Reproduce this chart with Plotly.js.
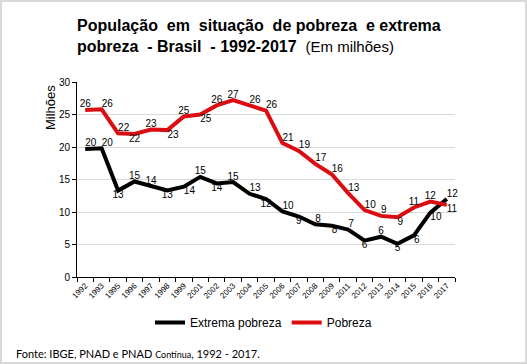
<!DOCTYPE html>
<html>
<head>
<meta charset="utf-8">
<script src="https://cdn.plot.ly/plotly-3.0.1.min.js"></script>
<style>
  html, body { margin: 0; padding: 0; background: #fff; }
  #chart { position: absolute; left: 0; top: 0; width: 527px; height: 364px; }
  #frame { position: absolute; left: 0; top: 0; width: 527px; height: 364px; box-sizing: border-box; border: 2px solid #d9d9d9; pointer-events: none; }
</style>
</head>
<body>
<div id="chart"></div>
<div id="frame"></div>
<script>
// Data (millions of people)
const years = ["1992","1993","1995","1996","1997","1998","1999","2001","2002","2003","2004","2005","2006","2007","2008","2009","2011","2012","2013","2014","2015","2016","2017"];
const extremaPobreza = [19.7, 19.8, 13.3, 14.7, 14.0, 13.3, 13.9, 15.4, 14.4, 14.6, 12.8, 12.0, 10.1, 9.3, 8.1, 7.9, 7.3, 5.6, 6.2, 5.1, 6.4, 9.9, 12.0];
const pobreza = [25.7, 25.8, 22.1, 22.0, 22.7, 22.6, 24.7, 25.0, 26.4, 27.2, 26.4, 25.6, 20.6, 19.4, 17.4, 15.8, 12.9, 10.3, 9.4, 9.2, 10.7, 11.6, 11.1];
const seriesNames = ["Extrema pobreza", "Pobreza"];

// Label placement (style)
const posExtrema = ["top right","top right","bottom center","top center","top center","bottom center","bottom right","top center","bottom center","top center","top right","bottom center","top right","bottom center","top right","bottom right","top right","bottom center","top center","bottom center","bottom right","bottom right","top right"];
const posPobreza = ["top center","top right","top right","bottom center","top center","bottom right","top center","bottom right","top center","top center","top right","top right","top right","top right","top right","top right","top right","top right","top right","bottom right","top center","top center","bottom right"];

const FONT = "Liberation Sans, Arial, sans-serif";

const traces = [
  {
    x: years, y: extremaPobreza, name: seriesNames[0], type: "scatter", mode: "lines+text",
    line: { color: "#000000", width: 4 },
    text: extremaPobreza.map(v => String(Math.round(v))),
    textposition: posExtrema,
    textfont: { family: FONT, size: 10, color: "#000" },
    cliponaxis: false
  },
  {
    x: years, y: pobreza, name: seriesNames[1], type: "scatter", mode: "lines+text",
    line: { color: "#dc0d12", width: 4 },
    text: pobreza.map(v => String(Math.round(v))),
    textposition: posPobreza,
    textfont: { family: FONT, size: 10, color: "#000" },
    cliponaxis: false
  }
];

const layout = {
  width: 527, height: 364,
  margin: { l: 77, r: 72, t: 82, b: 87 },
  paper_bgcolor: "#ffffff", plot_bgcolor: "#ffffff",
  font: { family: FONT, color: "#000" },
  showlegend: true,
  title: {
    text: "<b>População  em  situação  de pobreza  e extrema<br>pobreza  - Brasil  - 1992-2017</b>  <span style='font-size:15px'>(Em milhões)</span>",
    font: { family: FONT, size: 16, color: "#000" },
    xref: "container", x: 77/527, xanchor: "left",
    yref: "container", y: 1 - 31/364, yanchor: "top"
  },
  xaxis: {
    type: "category",
    range: [-0.5, years.length - 0.5],
    showline: true, linecolor: "#000", linewidth: 1,
    ticks: "outside", ticklen: 4, tickcolor: "#000", tickson: "boundaries",
    tickangle: -45,
    tickfont: { family: FONT, size: 8, color: "#000" },
    showgrid: false, zeroline: false, fixedrange: true
  },
  yaxis: {
    range: [0, 30], dtick: 5,
    showline: true, linecolor: "#000", linewidth: 1,
    ticks: "outside", ticklen: 4, tickcolor: "#000",
    tickfont: { family: FONT, size: 10, color: "#000" },
    showgrid: true, gridcolor: "#d9d9d9", gridwidth: 1,
    zeroline: false, fixedrange: true
  },
  legend: {
    orientation: "h",
    xref: "container", yref: "container",
    x: 150/527, xanchor: "left",
    y: 1 - 308/364, yanchor: "top",
    font: { family: FONT, size: 12, color: "#000" },
    itemwidth: 30, tracegroupgap: 0,
    bgcolor: "rgba(0,0,0,0)"
  },
  annotations: [
    {
      text: "Milhões", textangle: -90,
      xref: "paper", yref: "paper",
      x: -27/378, y: (277 - 108)/195,
      xanchor: "center", yanchor: "middle", showarrow: false,
      font: { family: FONT, size: 13, color: "#000" }
    },
    {
      text: "Fonte: IBGE, PNAD e PNAD <span style='font-size:9px'>Contínua</span>, 1992 - 2017.",
      xref: "paper", yref: "paper",
      x: -63/378, y: (277 - 353)/195,
      xanchor: "left", yanchor: "middle", showarrow: false,
      font: { family: "Lato, Open Sans, sans-serif", size: 11, color: "#000" }
    }
  ]
};

Plotly.newPlot("chart", traces, layout, { staticPlot: true, displayModeBar: false });
</script>
</body>
</html>
